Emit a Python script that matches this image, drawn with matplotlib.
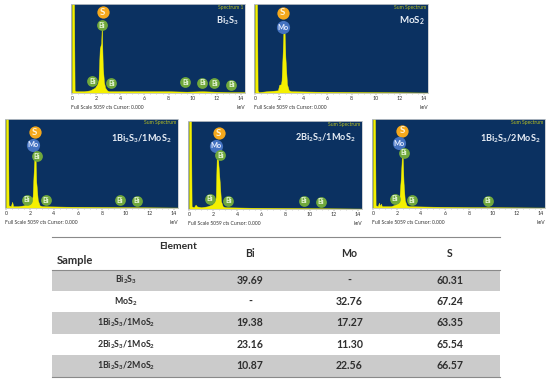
import matplotlib
matplotlib.use("Agg")
import matplotlib.pyplot as plt

plt.rcParams['font.family'] = ['Lato', 'DejaVu Sans']
plt.rcParams['mathtext.default'] = 'regular'

W, H = 550, 380
NAVY = '#0b3161'
YEL = '#f4f000'

# spectra: energy (keV), intensity (% of panel height)
kev_1 = [0.0, 0.08, 0.17, 0.22, 0.3, 0.5, 1.0, 1.5, 1.9, 2.1, 2.2, 2.3, 2.42, 2.47, 2.55, 2.65, 2.75, 2.9, 3.05, 3.3, 5.0, 8.0, 9.5, 10.8, 11.8, 13.0, 14.3]
cts_1 = [100, 100, 100, 3, 2, 2, 2, 3, 6, 10, 15, 50, 56, 76, 30, 12, 6, 3, 2, 2, 2, 2, 1.5, 2, 1.5, 1, 1]
kev_2 = [0.0, 0.08, 0.17, 0.22, 0.3, 1.0, 1.9, 2.0, 2.15, 2.2, 2.28, 2.35, 2.43, 2.52, 2.65, 2.8, 3.0, 5.0, 9.5, 14.3]
cts_2 = [100, 100, 100, 3, 1, 2, 3, 9, 10, 14, 40, 68, 78, 40, 10, 3, 2, 1.5, 1, 0.5]
kev_3 = [0.0, 0.08, 0.17, 0.22, 0.4, 0.52, 0.6, 0.7, 1.0, 1.5, 1.9, 2.1, 2.22, 2.3, 2.38, 2.43, 2.52, 2.65, 2.8, 3.0, 5.0, 9.5, 14.3]
cts_3 = [100, 100, 100, 3, 2, 7, 2, 2, 2, 3, 5, 8, 13, 38, 60, 74, 30, 9, 3, 2, 1.5, 1, 0.5]
kev_4 = [0.0, 0.08, 0.17, 0.22, 0.4, 0.55, 0.65, 1.0, 1.5, 1.9, 2.1, 2.22, 2.3, 2.36, 2.44, 2.55, 2.65, 2.8, 3.0, 5.0, 9.5, 14.3]
cts_4 = [100, 100, 100, 3, 2, 5, 3, 2, 3, 5, 8, 13, 60, 72, 50, 30, 9, 3, 2, 1.5, 1, 0.5]
kev_5 = [0.0, 0.08, 0.17, 0.22, 0.4, 0.5, 0.58, 0.65, 0.75, 1.0, 1.5, 1.9, 2.1, 2.2, 2.3, 2.38, 2.44, 2.55, 2.65, 2.8, 3.0, 5.0, 8.0, 14.3]
cts_5 = [100, 100, 100, 3, 2, 6, 2, 5, 2, 2, 2, 4, 7, 11, 30, 50, 74, 28, 9, 3, 2, 1.5, 1, 0.5]

# element labels: (symbol, keV, height %)
labels_1 = [('S', 2.55, 91), ('Bi', 2.45, 76), ('Bi', 1.7, 13), ('Bi', 3.25, 11), ('Bi', 9.4, 12), ('Bi', 10.8, 11.5), ('Bi', 11.8, 11), ('Bi', 13.2, 9.5)]
labels_2 = [('S', 2.3, 90), ('Mo', 2.3, 74)]
labels_3 = [('S', 2.4, 85), ('Mo', 2.25, 71), ('Bi', 2.55, 58), ('Bi', 1.75, 9.5), ('Bi', 3.3, 8.5), ('Bi', 9.5, 8.5), ('Bi', 10.9, 8)]
labels_4 = [('S', 2.45, 86), ('Mo', 2.25, 72), ('Bi', 2.6, 61), ('Bi', 1.75, 11.5), ('Bi', 3.25, 9.5), ('Bi', 9.5, 9.5), ('Bi', 10.9, 8)]
labels_5 = [('S', 2.45, 87), ('Mo', 2.2, 73), ('Bi', 2.55, 62), ('Bi', 1.8, 10.5), ('Bi', 3.25, 8.5), ('Bi', 9.55, 8)]

names = ['Bi$_2$S$_3$', 'MoS$_2$', '1Bi$_2$S$_3$/1MoS$_2$', '2Bi$_2$S$_3$/1MoS$_2$', '1Bi$_2$S$_3$/2MoS$_2$']
spectrum_titles = ['Spectrum 1', 'Sum Spectrum', 'Sum Spectrum', 'Sum Spectrum', 'Sum Spectrum']
ticks = [0, 2, 4, 6, 8, 10, 12, 14]

# table
table_columns = ['Bi', 'Mo', 'S']
table_bi = ['39.69', '-', '19.38', '23.16', '10.87']
table_mo = ['-', '32.76', '17.27', '11.30', '22.56']
table_s = ['60.31', '67.24', '63.35', '65.54', '66.57']

STYLE = {'S': ('#f5a81c', '#fff3d6'), 'Mo': ('#4472c0', '#e6edff'), 'Bi': ('#70a83c', '#e9f6dc')}

fig = plt.figure(figsize=(W / 100, H / 100), dpi=100, facecolor='white')


def add_px_axes(x0, y0, x1, y1):
    return fig.add_axes([x0 / W, 1 - y1 / H, (x1 - x0) / W, (y1 - y0) / H])


boxes = [(71, 4, 245, 93), (254, 4, 428, 93), (5, 119, 178, 208), (188, 121, 362, 209), (372, 119, 545, 208)]
spectra = [(kev_1, cts_1, labels_1), (kev_2, cts_2, labels_2), (kev_3, cts_3, labels_3),
           (kev_4, cts_4, labels_4), (kev_5, cts_5, labels_5)]
name_pos = [(0.897, 0.81), (0.908, 0.81), (0.79, 0.775), (0.79, 0.807), (0.80, 0.775)]
name_size = [6.6, 7, 6.6, 6.6, 6.6]

for box, (k, c, labs), nm, st, np_, ns in zip(boxes, spectra, names, spectrum_titles, name_pos, name_size):
    ax = add_px_axes(*box)
    ax.set_facecolor(NAVY)
    ax.set_xlim(-0.08, 14.33)
    ax.set_ylim(0, 100)
    ax.fill_between(k, 0, c, color=YEL, lw=0.3, zorder=2)
    for sp in ax.spines.values():
        sp.set_color('#c4c8cc')
        sp.set_linewidth(0.6)
    ax.set_xticks(ticks)
    ax.set_xticklabels([str(t) for t in ticks], fontsize=3.8, color='#333333')
    ax.set_xticks([t / 2 for t in range(0, 29)], minor=True)
    ax.tick_params(axis='x', length=1.2, width=0.3, pad=1.2, color='#555555')
    ax.tick_params(axis='x', which='minor', length=0.7, width=0.2, color='#555555')
    ax.set_yticks([])
    ax.text(0.99, 0.985, st, transform=ax.transAxes, ha='right', va='top', fontsize=3.6, color='#b8c020')
    ax.text(np_[0], np_[1], nm, transform=ax.transAxes, ha='center', va='center', fontsize=ns,
            color='#e8eef6', fontweight='bold')
    ax.text(0, -0.165, 'Full Scale 5059 cts Cursor: 0.000', transform=ax.transAxes, ha='left', va='center',
            fontsize=3.6, color='#333333')
    ax.text(1, -0.165, 'keV', transform=ax.transAxes, ha='right', va='center', fontsize=3.6, color='#333333')
    for sym, xk, yv in labs:
        face, txt = STYLE[sym]
        sizes = {'S': 78, 'Mo': 90, 'Bi': 60}
        ax.scatter([xk], [yv], s=sizes[sym], color=face, lw=0, zorder=4, clip_on=False)
        ax.text(xk, yv, sym, ha='center', va='center', zorder=5, color=txt,
                fontsize={'S': 7, 'Mo': 5.2, 'Bi': 5.2}[sym], fontweight='bold')

# table, in pixel coordinates of the whole figure
tb = fig.add_axes([0, 0, 1, 1])
tb.set_xlim(0, W)
tb.set_ylim(H, 0)
tb.axis('off')
tb.patch.set_alpha(0)
L, R = 52, 500
row_top = 269.5
row_h = 21.4
for i in (0, 2, 4):
    tb.fill_between([L, R], row_top + i * row_h, row_top + (i + 1) * row_h, color='#cbcbcb', lw=0)
tb.plot([L, R], [236.5, 236.5], color='#8a8a8a', lw=0.8)
tb.plot([L, R], [row_top, row_top], color='#8a8a8a', lw=0.8)
tb.plot([L, R], [row_top + 5 * row_h] * 2, color='#8a8a8a', lw=0.8)

TXT = '#2e2e2e'
tb.text(178, 246.5, 'Element', ha='center', va='center', fontsize=7.4, fontweight='bold', color=TXT)
tb.text(74.5, 260, 'Sample', ha='center', va='center', fontsize=8, fontweight='bold', color=TXT)
col_x = [250, 349.5, 450]
for x, c in zip(col_x, table_columns):
    tb.text(x, 253.5, c, ha='center', va='center', fontsize=7.6, fontweight='bold', color=TXT)
for i, nm in enumerate(names):
    y = row_top + (i + 0.5) * row_h
    tb.text(126, y, nm, ha='center', va='center', fontsize=6.3, color=TXT, fontweight='bold')
    for x, vals in zip(col_x, (table_bi, table_mo, table_s)):
        tb.text(x, y, vals[i], ha='center', va='center', fontsize=7.6, color=TXT, fontweight='bold')

fig.savefig('out.png', dpi=100)
